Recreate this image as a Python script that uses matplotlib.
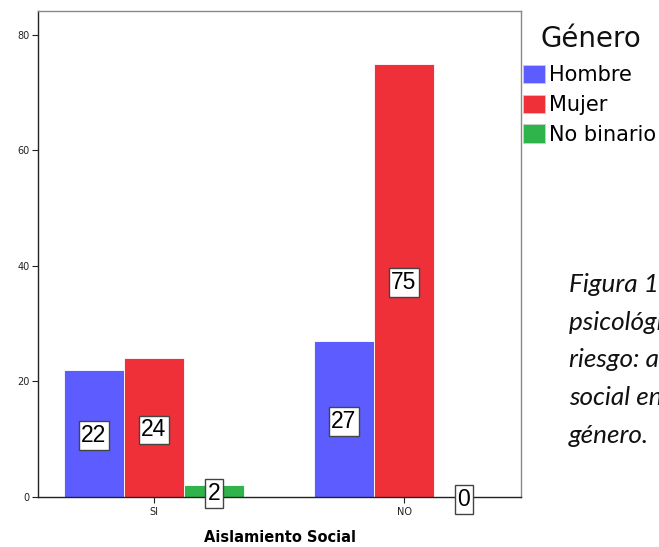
import matplotlib
matplotlib.use("Agg")
import matplotlib.pyplot as plt
import numpy as np
from matplotlib.patches import Patch

categories = ["SI", "NO"]
series = ["Hombre", "Mujer", "No binario"]
hombre = [22, 27]
mujer = [24, 75]
no_binario = [2, 0]
colors = ["#5c5cff", "#ef3039", "#2eb44b"]
yticks = [0, 20, 40, 60, 80]

fig = plt.figure(figsize=(6.59, 5.47), dpi=100)
ax = fig.add_axes([38/659, 1-497/547, (521-38)/659, (497-11)/547])

x = np.arange(len(categories))
w = 0.24
values = [hombre, mujer, no_binario]
for i, (vals, col) in enumerate(zip(values, colors)):
    pos = x + (i - 1) * w
    ax.bar(pos, vals, width=w, color=col, edgecolor="#ffffff", linewidth=0.6, zorder=2)
    for px, v in zip(pos, vals):
        ax.text(px, v / 2 - 0.4, str(v), ha="center", va="center", fontsize=16.5,
                family="Liberation Sans", zorder=4,
                bbox=dict(boxstyle="square,pad=0.12", fc="white", ec="#444444", lw=1.0))

ax.set_xlim(-0.464, 1.468)
ax.set_ylim(0, 84.1)
ax.set_yticks(yticks)
ax.set_xticks(x)
ax.set_xticklabels(categories)
ax.tick_params(axis="both", labelsize=7, length=4.5, width=0.8, direction="out",
               colors="#222222", pad=1.5)
ax.tick_params(axis="x", pad=3)
for lab in ax.get_xticklabels() + ax.get_yticklabels():
    lab.set_family("DejaVu Sans")
for s in ["left", "bottom"]:
    ax.spines[s].set_color("#222222")
    ax.spines[s].set_linewidth(1.0)
for s in ["top", "right"]:
    ax.spines[s].set_color("#888888")
    ax.spines[s].set_linewidth(1.0)
ax.set_xlabel("Aislamiento Social", fontsize=10.5, fontweight="bold", labelpad=9,
              family="DejaVu Sans")

# legend title
fig.text(591/659, 1 - 47/547, "Género", fontsize=20, family="DejaVu Sans",
         ha="center", va="baseline", color="#111111")
handles = [Patch(facecolor=c, edgecolor="#d0d0d0", linewidth=0.5) for c in colors]
leg = fig.legend(handles, series, loc="upper left", bbox_to_anchor=(523/659, 1-65/547),
                 frameon=False,
                 handlelength=1.06, handleheight=0.98, handletextpad=0.19,
                 labelspacing=0.45, borderaxespad=0, borderpad=0,
                 prop=dict(family="DejaVu Sans", size=15))

caption = ["Figura 1. Factores", "psicológicos de", "riesgo: aislamiento",
           "social en función del", "género."]
for k, line in enumerate(caption):
    fig.text(569/659, 1 - (292 + k * 37.7)/547, line, fontsize=18.8, style="italic",
             family="Lato", ha="left", va="baseline", color="#111111")

fig.savefig("out.png", dpi=100)
